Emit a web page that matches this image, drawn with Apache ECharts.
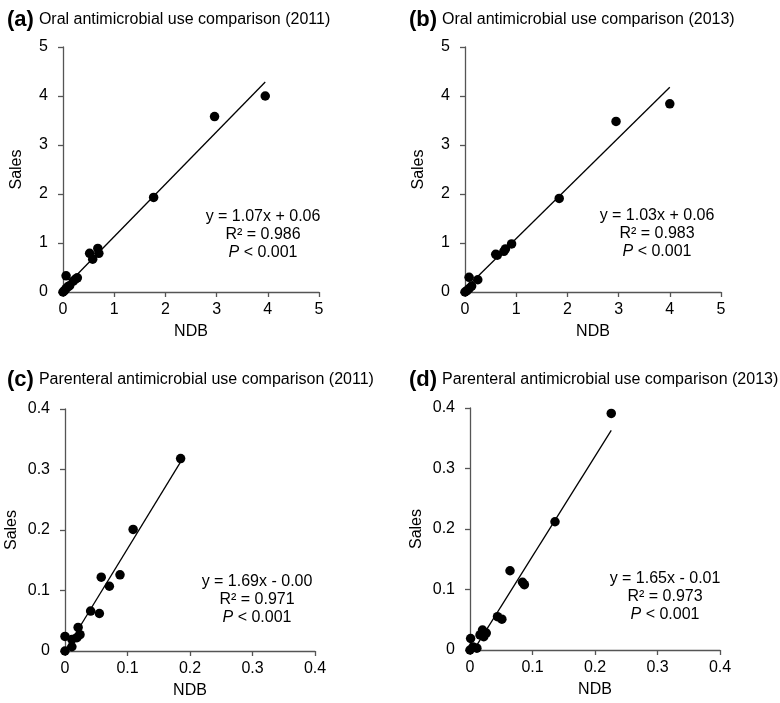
<!DOCTYPE html>
<html><head><meta charset="utf-8">
<script src="https://cdn.jsdelivr.net/npm/echarts@6/dist/echarts.min.js"></script>
<style>html,body{margin:0;padding:0;background:#fff}#c{width:780px;height:703px}</style>
</head><body><div id="c"></div>
<script>
// Panel titles
const panelLetters = ['(a)', '(b)', '(c)', '(d)'];
const panelTitles = [
  'Oral antimicrobial use comparison (2011)',
  'Oral antimicrobial use comparison (2013)',
  'Parenteral antimicrobial use comparison (2011)',
  'Parenteral antimicrobial use comparison (2013)'
];
// Data (NDB on x, Sales on y)
const aX = [0.00, 0.03, 0.06, 0.10, 0.13, 0.06, 0.20, 0.24, 0.28, 0.52, 0.58, 0.68, 0.70, 1.77, 2.96, 3.95];
const aY = [0.00, 0.03, 0.07, 0.11, 0.13, 0.33, 0.22, 0.26, 0.29, 0.79, 0.67, 0.89, 0.79, 1.93, 3.58, 4.00];
const bX = [0.00, 0.04, 0.08, 0.13, 0.08, 0.25, 0.60, 0.63, 0.76, 0.79, 0.91, 1.84, 2.95, 4.00];
const bY = [0.00, 0.03, 0.07, 0.12, 0.30, 0.25, 0.77, 0.75, 0.83, 0.88, 0.98, 1.91, 3.48, 3.84];
const cX = [0.000, 0.000, 0.011, 0.011, 0.019, 0.024, 0.021, 0.041, 0.055, 0.058, 0.071, 0.088, 0.109, 0.185];
const cY = [0.000, 0.024, 0.019, 0.007, 0.022, 0.027, 0.039, 0.066, 0.062, 0.122, 0.107, 0.126, 0.201, 0.318];
const dX = [0.000, 0.001, 0.005, 0.011, 0.016, 0.020, 0.022, 0.026, 0.044, 0.051, 0.064, 0.084, 0.087, 0.136, 0.226];
const dY = [0.000, 0.019, 0.005, 0.003, 0.025, 0.033, 0.022, 0.028, 0.055, 0.051, 0.131, 0.112, 0.108, 0.212, 0.391];
// Regression fits
const slopes = [1.07, 1.03, 1.69, 1.65];
const intercepts = [0.06, 0.06, -0.00, -0.01];
const eqTexts = ['y = 1.07x + 0.06', 'y = 1.03x + 0.06', 'y = 1.69x - 0.00', 'y = 1.65x - 0.01'];
const r2Texts = ['R² = 0.986', 'R² = 0.983', 'R² = 0.971', 'R² = 0.973'];
const pTexts = ['< 0.001', '< 0.001', '< 0.001', '< 0.001'];
// Axes
const axisMax = [5, 5, 0.4, 0.4];
const axisStep = [1, 1, 0.1, 0.1];
const xName = 'NDB', yName = 'Sales';

const FONT = '"Liberation Sans", Arial, sans-serif';
const FS = 16;
const xs = [aX, bX, cX, dX], ys = [aY, bY, cY, dY];
const grids = [
  {left: 63, top: 47, width: 256, height: 245},
  {left: 465, top: 47, width: 256, height: 245},
  {left: 65, top: 409, width: 250, height: 242},
  {left: 470, top: 408, width: 250, height: 242}
];
const titlePos = [[2, 4], [404, 4], [2, 364], [404, 364]];
const eqPos = [[263, 217], [657, 216], [257, 582], [665, 579]];

const axisLineStyle = {color: '#555', width: 1.3};
const option = {
  animation: false,
  backgroundColor: '#fff',
  grid: grids.map(g => Object.assign({containLabel: false}, g)),
  xAxis: grids.map((g, i) => ({
    gridIndex: i, type: 'value', min: 0, max: axisMax[i], interval: axisStep[i],
    name: xName, nameLocation: 'middle', nameGap: 32,
    nameTextStyle: {fontFamily: FONT, fontSize: FS, color: '#000'},
    axisLine: {show: true, onZero: false, lineStyle: axisLineStyle},
    axisTick: {show: true, length: 5, lineStyle: axisLineStyle},
    axisLabel: {fontFamily: FONT, fontSize: FS, color: '#000', margin: 10},
    splitLine: {show: false}
  })),
  yAxis: grids.map((g, i) => ({
    gridIndex: i, type: 'value', min: 0, max: axisMax[i], interval: axisStep[i],
    name: yName, nameLocation: 'middle', nameGap: i < 2 ? 38 : 45, nameRotate: 90,
    nameTextStyle: {fontFamily: FONT, fontSize: FS, color: '#000'},
    axisLine: {show: true, onZero: false, lineStyle: axisLineStyle},
    axisTick: {show: true, length: 5, lineStyle: axisLineStyle},
    axisLabel: {fontFamily: FONT, fontSize: FS, color: '#000', margin: 15},
    splitLine: {show: false}
  })),
  title: titlePos.map((p, i) => ({
    left: p[0], top: p[1],
    text: '{l|' + panelLetters[i] + '} {t|' + panelTitles[i] + '}',
    textStyle: {fontWeight: 'normal', rich: {
      l: {fontFamily: FONT, fontSize: 22, fontWeight: 'bold', color: '#000'},
      t: {fontFamily: FONT, fontSize: FS, fontWeight: 'normal', color: '#000'}
    }}
  })),
  series: []
};
option.graphic = eqPos.map((p, i) => ({
  type: 'group', x: p[0], y: p[1],
  children: [
    {type: 'text', style: {text: eqTexts[i], x: 0, y: 0, fontFamily: FONT, fontSize: FS, fill: '#000', align: 'center', verticalAlign: 'middle'}},
    {type: 'text', style: {text: r2Texts[i], x: 0, y: 18, fontFamily: FONT, fontSize: FS, fill: '#000', align: 'center', verticalAlign: 'middle'}},
    {type: 'text', style: {text: '{i|P} ' + pTexts[i], x: 0, y: 36, fontFamily: FONT, fontSize: FS, fill: '#000', align: 'center', verticalAlign: 'middle',
      rich: {i: {fontFamily: FONT, fontSize: FS, fontStyle: 'italic', fill: '#000'}}}}
  ]
}));
for (let i = 0; i < 4; i++) {
  const xmin = Math.min.apply(null, xs[i]), xmax = Math.max.apply(null, xs[i]);
  option.series.push({
    type: 'line', xAxisIndex: i, yAxisIndex: i, symbol: 'none', silent: true,
    clip: true, lineStyle: {color: '#000', width: 1.3},
    data: [[xmin, slopes[i] * xmin + intercepts[i]], [xmax, slopes[i] * xmax + intercepts[i]]],
    z: 2
  });
  option.series.push({
    type: 'scatter', xAxisIndex: i, yAxisIndex: i, symbol: 'circle', symbolSize: 9.5,
    itemStyle: {color: '#000', opacity: 1}, clip: false,
    data: xs[i].map((x, k) => [x, ys[i][k]]),
    z: 3
  });
}
const chart = echarts.init(document.getElementById('c'), null, {renderer: 'canvas'});
chart.setOption(option);
</script>
</body></html>
